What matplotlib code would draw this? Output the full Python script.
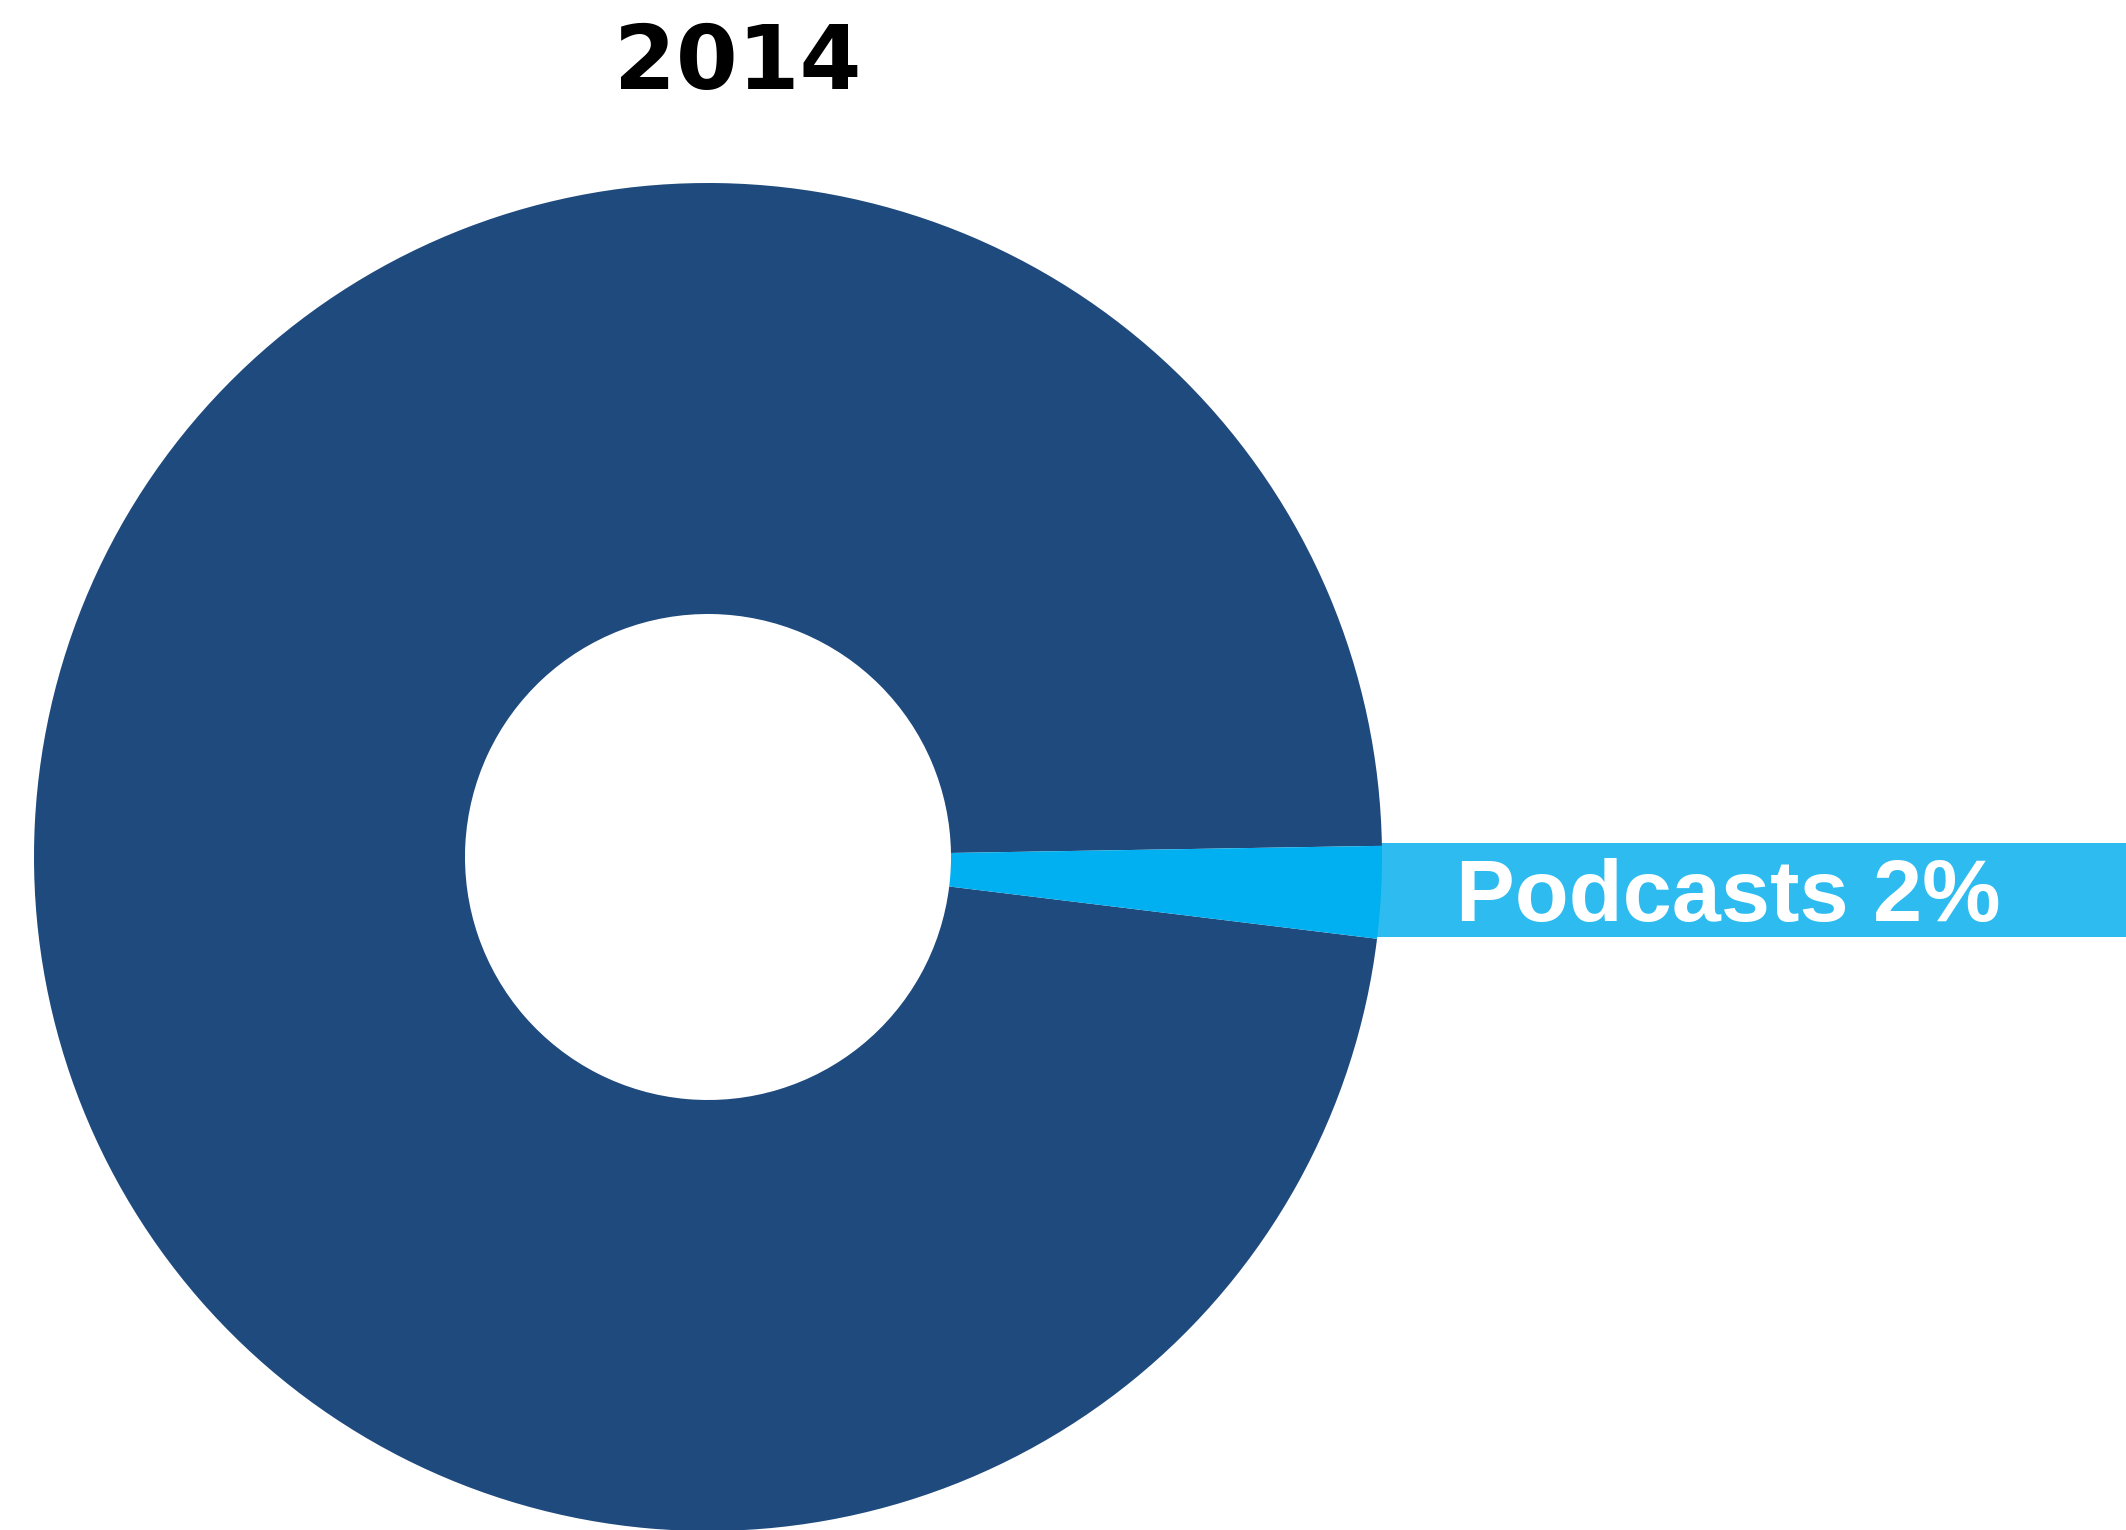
import matplotlib.pyplot as plt
from matplotlib.patches import Rectangle

# data
labels = ['Other', 'Podcasts']
shares = [97.8, 2.2]
label_text = 'Podcasts 2%'
year = '2014'

colors = ['#1F4A7D', '#00B0F0']
box_color = '#2EBCF0'

W, H = 2126, 1530
fig = plt.figure(figsize=(W / 100, H / 100), dpi=100)
ax = fig.add_axes([0, 0, 1, 1])

# donut, coordinates in pixels with y pointing up
cx, cy = 708, H - 857
r_out = 674
r_in = 243
ax.pie(shares, colors=colors, startangle=0.95, counterclock=True,
       radius=r_out, center=(cx, cy),
       wedgeprops=dict(width=r_out - r_in, linewidth=0, zorder=3))

# label band behind the ring
ax.add_patch(Rectangle((1370, H - 937), W - 1370, 94,
                       facecolor=box_color, edgecolor='none', zorder=1))
ax.text(1456, H - 921, label_text, color='white', fontsize=63.5,
        fontweight='bold', family='Liberation Sans',
        ha='left', va='baseline', zorder=4)

ax.text(738, H - 89, year, color='black', fontsize=64, fontweight='bold',
        family='DejaVu Sans', ha='center', va='baseline')

ax.set_xlim(0, W)
ax.set_ylim(0, H)
ax.set_aspect('equal')
ax.axis('off')

fig.savefig('out.png', dpi=100, facecolor='white')
